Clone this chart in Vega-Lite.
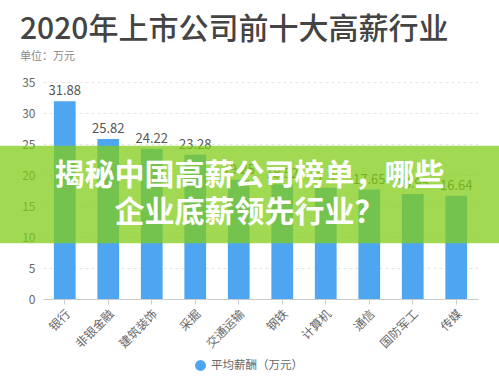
{
  "$schema": "https://vega.github.io/schema/vega-lite/v6.json",
  "width": 435,
  "height": 217,
  "autosize": {"type": "none"},
  "padding": {"left": 43, "top": 82, "right": 21, "bottom": 92},
  "background": "white",
  "config": {
    "font": "Noto Sans CJK SC",
    "view": {"stroke": null},
    "axisY": {
      "title": null,
      "tickCount": 7,
      "domain": false,
      "ticks": false,
      "labelOverlap": false,
      "labelFlush": false,
      "labelPadding": 8,
      "labelFontSize": 12,
      "labelColor": "#666666",
      "gridColor": "#e6e6e6",
      "gridDash": [3, 3]
    },
    "axisX": {
      "title": null,
      "labelAngle": -45,
      "labelFontSize": 12,
      "labelColor": "#666666",
      "domainColor": "#cccccc",
      "tickColor": "#cccccc",
      "tickSize": 5,
      "labelPadding": 4,
      "grid": false
    }
  },
  "title": {
    "text": "2020年上市公司前十大高薪行业",
    "subtitle": "单位：万元",
    "anchor": "start",
    "frame": "group",
    "dx": -23,
    "fontSize": 30,
    "fontWeight": 500,
    "color": "#444444",
    "subtitleFontSize": 11,
    "subtitleColor": "#888888",
    "subtitlePadding": 6,
    "offset": 14
  },
  "data": {
    "values": [
      {"行业": "银行", "薪酬": 31.88},
      {"行业": "非银金融", "薪酬": 25.82},
      {"行业": "建筑装饰", "薪酬": 24.22},
      {"行业": "采掘", "薪酬": 23.28},
      {"行业": "交通运输", "薪酬": 19.25},
      {"行业": "钢铁", "薪酬": 18.52},
      {"行业": "计算机", "薪酬": 17.93},
      {"行业": "通信", "薪酬": 17.65},
      {"行业": "国防军工", "薪酬": 16.95},
      {"行业": "传媒", "薪酬": 16.64}
    ]
  },
  "layer": [
    {
      "mark": {"type": "bar"},
      "encoding": {
        "x": {
          "field": "行业",
          "type": "nominal",
          "sort": null,
          "scale": {"paddingInner": 0.5, "paddingOuter": 0.25}
        },
        "y": {
          "field": "薪酬",
          "type": "quantitative",
          "scale": {"domain": [0, 35]}
        },
        "color": {
          "datum": "平均薪酬（万元）",
          "scale": {"range": ["#4da6ef"]},
          "legend": {
            "orient": "none",
            "legendX": 151,
            "legendY": 277,
            "title": null,
            "symbolType": "circle",
            "symbolSize": 120,
            "labelFontSize": 11.5,
            "labelColor": "#666666"
          }
        }
      }
    },
    {
      "mark": {"type": "text", "baseline": "bottom", "dy": -3, "fontSize": 13, "color": "#555555"},
      "encoding": {
        "x": {"field": "行业", "type": "nominal", "sort": null},
        "y": {"field": "薪酬", "type": "quantitative"},
        "text": {"field": "薪酬", "type": "quantitative", "format": ".2f"}
      }
    },
    {
      "data": {"values": [{}]},
      "mark": {"type": "rect", "color": "#80cd16", "opacity": 0.74, "x": -43, "x2": {"expr": "width+21"}, "clip": false},
      "encoding": {
        "y": {"datum": 24.7, "type": "quantitative"},
        "y2": {"datum": 9.0}
      }
    },
    {
      "data": {"values": [{}]},
      "mark": {
        "type": "text",
        "text": ["揭秘中国高薪公司榜单，哪些", "企业底薪领先行业？"],
        "x": {"expr": "width/2-11"},
        "align": "center",
        "baseline": "middle",
        "fontSize": 30,
        "fontWeight": "bold",
        "color": "white",
        "lineHeight": 37
      },
      "encoding": {
        "y": {"datum": 19.9, "type": "quantitative"}
      }
    }
  ]
}
